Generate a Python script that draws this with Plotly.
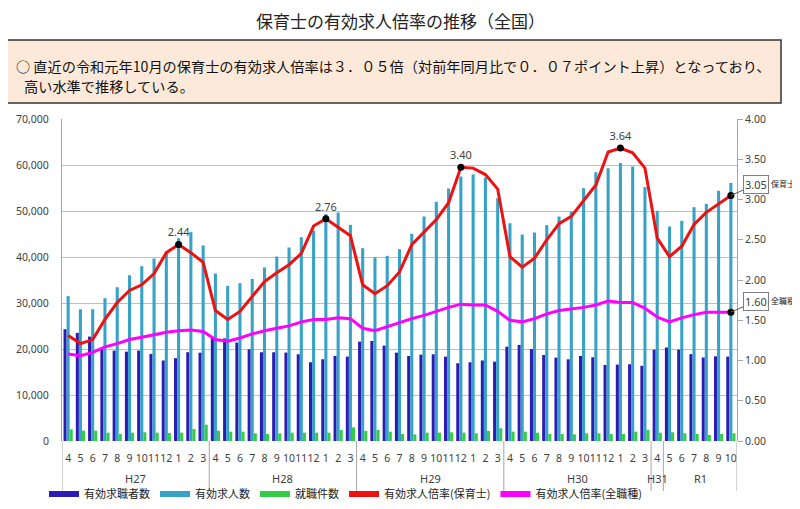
import plotly.graph_objects as go

# ---------------- data ----------------
YEARS = ["H27"] * 12 + ["H28"] * 12 + ["H29"] * 12 + ["H30"] * 12 + ["H31"] * 1 + ["R1"] * 6
MONTHS = (["4", "5", "6", "7", "8", "9", "10", "11", "12", "1", "2", "3"] * 4
          + ["4"] + ["5", "6", "7", "8", "9", "10"])

job_seekers = [24300, 23500, 22700, 20200, 19650, 19430, 19650, 18930, 17500, 18000, 19300, 19200,
               22500, 22300, 21400, 19940, 19290, 19290, 19220, 18850, 17110, 17770, 18500, 18350,
               21600, 21750, 20730, 19200, 18490, 18780, 18850, 18340, 16900, 17110, 17500, 17250,
               20510, 20880, 20000, 18700, 18120, 17760, 18490, 18200, 16530, 16600, 16680, 16350,
               19860, 20330, 19860, 18880, 18150, 18410, 18340]

job_openings = [31500, 28640, 28640, 31040, 33430, 36040, 38000, 39670, 41040, 44090, 45400, 42500,
                36400, 33720, 34300, 35240, 37710, 40100, 42060, 44310, 45760, 49310, 49670, 46990,
                41910, 39880, 40250, 41700, 45030, 48800, 51990, 54890, 57510, 57940, 57290, 52790,
                47350, 44890, 45320, 46920, 48800, 49890, 54970, 58450, 59320, 60410, 59680, 55190,
                50040, 46630, 47860, 50830, 51560, 54390, 56060]

placements = [2540, 2250, 2250, 1810, 1520, 1810, 1890, 1810, 1740, 1810, 2610, 3550,
              2250, 2030, 2030, 1670, 1520, 1670, 1810, 1810, 1810, 1810, 2390, 2970,
              2180, 2390, 2030, 1520, 1450, 1810, 1810, 1890, 1810, 1670, 2180, 2760,
              2030, 2030, 1810, 1520, 1520, 1450, 1670, 1670, 1520, 1520, 2030, 2390,
              1810, 1890, 1670, 1520, 1300, 1520, 1670]

ratio_hoikushi = [1.31, 1.21, 1.26, 1.51, 1.72, 1.87, 1.94, 2.08, 2.34, 2.44, 2.34, 2.22,
                  1.62, 1.51, 1.61, 1.79, 1.98, 2.09, 2.19, 2.33, 2.67, 2.76, 2.66, 2.55,
                  1.94, 1.83, 1.93, 2.10, 2.44, 2.60, 2.75, 2.96, 3.40, 3.39, 3.31, 3.13,
                  2.29, 2.16, 2.27, 2.50, 2.70, 2.79, 2.99, 3.18, 3.59, 3.64, 3.58, 3.39,
                  2.52, 2.29, 2.42, 2.69, 2.84, 2.95, 3.05]

ratio_all = [1.08, 1.06, 1.10, 1.17, 1.21, 1.26, 1.29, 1.32, 1.35, 1.37, 1.38, 1.36,
             1.26, 1.24, 1.28, 1.33, 1.37, 1.40, 1.43, 1.48, 1.51, 1.51, 1.53, 1.52,
             1.40, 1.37, 1.42, 1.47, 1.52, 1.56, 1.61, 1.66, 1.70, 1.69, 1.69, 1.61,
             1.50, 1.48, 1.52, 1.58, 1.62, 1.64, 1.66, 1.69, 1.74, 1.72, 1.72, 1.65,
             1.54, 1.48, 1.53, 1.57, 1.60, 1.60, 1.60]

PEAK_IDX = [9, 21, 32, 45]          # labelled peaks of the 保育士 ratio
LEFT_TICKS = [0, 10000, 20000, 30000, 40000, 50000, 60000, 70000]
RIGHT_TICKS = [0, 0.5, 1.0, 1.5, 2.0, 2.5, 3.0, 3.5, 4.0]

SERIES_NAMES = ["有効求職者数", "有効求人数", "就職件数", "有効求人倍率(保育士)", "有効求人倍率(全職種)"]
SERIES_COLORS = ["#2B1CB4", "#36A2C6", "#33CC44", "#EE1111", "#FF00FF"]

# ---------------- layout helpers (screen pixel coords) ----------------
OFF = 8                      # default body margin of the html page
W, H = 800 - OFF, 509 - OFF
L, R, T, B = 62, 737, 119, 441   # plot area in screen pixels


def px(x):
    return (x - L) / (R - L)


def py(y):
    return (B - y) / (B - T)


FONT = "Noto Sans, Noto Sans CJK JP, sans-serif"
JFONT = "Noto Sans CJK JP, sans-serif"
TXT = "#404040"

xs = list(range(len(MONTHS)))

fig = go.Figure()
for vals, name, col in zip([job_seekers, job_openings, placements], SERIES_NAMES[:3], SERIES_COLORS[:3]):
    fig.add_trace(go.Bar(x=xs, y=vals, name=name, marker_color=col, marker_line_width=0,
                         showlegend=False))
fig.add_trace(go.Scatter(x=xs, y=ratio_hoikushi, name=SERIES_NAMES[3], yaxis="y2",
                         mode="lines", line=dict(color=SERIES_COLORS[3], width=3), showlegend=False))
fig.add_trace(go.Scatter(x=xs, y=ratio_all, name=SERIES_NAMES[4], yaxis="y2",
                         mode="lines", line=dict(color=SERIES_COLORS[4], width=3), showlegend=False))

# legend keys (thick bars like the reference)
for name, col in zip(SERIES_NAMES, SERIES_COLORS):
    fig.add_trace(go.Scatter(x=[None], y=[None], name=name, mode="lines",
                             line=dict(color=col, width=6), showlegend=True))

# peak markers with labels
fig.add_trace(go.Scatter(x=[xs[i] for i in PEAK_IDX], y=[ratio_hoikushi[i] for i in PEAK_IDX],
                         yaxis="y2", mode="markers+text", showlegend=False,
                         marker=dict(color="black", size=7),
                         text=["%.2f" % ratio_hoikushi[i] for i in PEAK_IDX],
                         textposition="top center",
                         textfont=dict(size=11, color=TXT, family=FONT)))
# last points
fig.add_trace(go.Scatter(x=[xs[-1], xs[-1]], y=[ratio_hoikushi[-1], ratio_all[-1]],
                         yaxis="y2", mode="markers", showlegend=False,
                         marker=dict(color="black", size=7)))

annotations = []
shapes = []

# end labels with boxes
for val, name in [(ratio_hoikushi[-1], "保育士"), (ratio_all[-1], "全職種")]:
    annotations.append(dict(x=xs[-1], y=val, xref="x", yref="y2", text="%.2f" % val,
                            showarrow=True, arrowhead=0, arrowwidth=1, arrowcolor="#595959",
                            ax=25, ay=-11, bordercolor="#7F7F7F", borderwidth=1, borderpad=1,
                            bgcolor="white", font=dict(size=11, color=TXT, family=FONT)))
    annotations.append(dict(x=xs[-1], y=val, xref="x", yref="y2", text=name, showarrow=True,
                            arrowcolor="rgba(0,0,0,0)", ax=52, ay=-12, xanchor="center",
                            font=dict(size=8, color="#222", family=JFONT)))

# year group labels and dividers
groups = []
for i, yl in enumerate(YEARS):
    if not groups or groups[-1][0] != yl:
        groups.append([yl, i, i])
    else:
        groups[-1][2] = i
for yl, s, e in groups:
    annotations.append(dict(x=(s + e) / 2, y=py(478), xref="x", yref="paper", text=yl,
                            yanchor="middle", showarrow=False,
                            font=dict(size=11, color=TXT, family=FONT)))
    shapes.append(dict(type="line", xref="x", yref="paper", x0=s - 0.5, x1=s - 0.5,
                       y0=0, y1=py(491), line=dict(color="#A6A6A6", width=1)))
shapes.append(dict(type="line", xref="x", yref="paper", x0=xs[-1] + 0.5, x1=xs[-1] + 0.5,
                   y0=0, y1=py(491), line=dict(color="#A6A6A6", width=1)))

# header box
shapes.append(dict(type="rect", xref="paper", yref="paper", x0=px(3), x1=px(781),
                   y0=py(103), y1=py(40), fillcolor="#FDE9D9",
                   line=dict(color="#333333", width=1.5), layer="below"))

annotations.append(dict(x=px(400), y=py(20), xref="paper", yref="paper", xanchor="center",
                        yanchor="middle", text="保育士の有効求人倍率の推移（全国）", showarrow=False,
                        font=dict(size=17, color="#222", family=JFONT)))
annotations.append(dict(x=px(14), y=py(66), xref="paper", yref="paper", xanchor="left",
                        yanchor="middle",
                        text="○ 直近の令和元年10月の保育士の有効求人倍率は３．０５倍（対前年同月比で０．０７ポイント上昇）となっており、",
                        showarrow=False, font=dict(size=14.2, color="#111", family=JFONT)))
annotations.append(dict(x=px(22), y=py(86), xref="paper", yref="paper", xanchor="left",
                        yanchor="middle", text="高い水準で推移している。",
                        showarrow=False, font=dict(size=14.2, color="#111", family=JFONT)))

fig.update_layout(
    width=W, height=H,
    margin=dict(l=L - OFF, r=W - (R - OFF), t=T - OFF, b=H - (B - OFF), pad=0, autoexpand=False),
    paper_bgcolor="white", plot_bgcolor="white",
    font=dict(family=FONT, size=11, color=TXT),
    barmode="group", bargap=0.25, bargroupgap=0,
    xaxis=dict(range=[-0.5, len(xs) - 0.5], tickmode="array", tickvals=xs, ticktext=MONTHS,
               showgrid=False, zeroline=False, showline=False, ticks="", tickangle=0,
               automargin=False, tickfont=dict(size=10.5, color=TXT), ticklabelstandoff=9),
    yaxis=dict(range=[0, 70000], tickvals=LEFT_TICKS, tickformat=",d", automargin=False,
               showgrid=True, gridcolor="#BFBFBF", gridwidth=1, zeroline=False,
               showline=True, linecolor="#A6A6A6", ticks="", ticklabelstandoff=10,
               tickfont=dict(size=10.5, color=TXT)),
    yaxis2=dict(range=[0, 4], tickvals=RIGHT_TICKS, tickformat=".2f", overlaying="y",
                side="right", showgrid=False, zeroline=False, showline=True, automargin=False,
                linecolor="#A6A6A6", ticks="outside", ticklen=5, tickcolor="#A6A6A6",
                tickfont=dict(size=10.5, color=TXT)),
    legend=dict(orientation="h", x=px(44), xanchor="left", y=py(494), yanchor="middle",
                font=dict(size=11, color="#222", family=JFONT), bgcolor="rgba(0,0,0,0)",
                itemwidth=30, tracegroupgap=0),
    annotations=annotations, shapes=shapes,
)

fig.write_html("out.html")
